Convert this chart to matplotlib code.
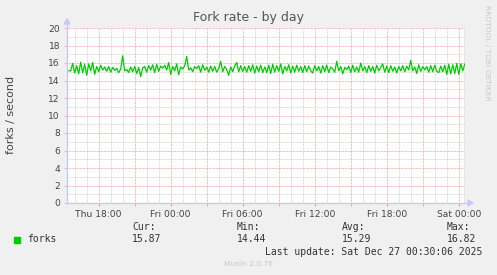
import numpy as np
import pandas as pd
import matplotlib
matplotlib.use("Agg")
import matplotlib.pyplot as plt

# --- DATA (forks per second, 10 minute samples) ---
start_time = "2025-12-25 15:20"
step_minutes = 10
forks = [
    15.10, 15.12, 15.10, 15.95, 14.85, 15.70, 14.75, 16.10, 14.90, 15.85,
    14.60, 15.90, 15.10, 16.05, 14.70, 15.60, 15.00, 15.75, 15.20, 15.55,
    15.05, 15.60, 14.95, 15.50, 15.15, 15.40, 14.90, 15.30, 16.82, 15.10,
    15.25, 14.90, 15.55, 15.00, 15.60, 14.80, 15.50, 14.44, 15.45, 15.60,
    14.95, 15.70, 15.20, 15.80, 14.90, 15.85, 15.05, 15.65, 15.40, 15.75,
    15.20, 16.05, 14.70, 15.60, 15.10, 15.90, 14.65, 15.55, 15.30, 15.70,
    16.75, 15.20, 15.45, 15.00, 15.60, 15.35, 15.70, 14.95, 15.80, 15.15,
    15.55, 14.95, 15.65, 15.05, 15.60, 14.95, 15.35, 16.20, 15.00, 15.60,
    15.25, 14.60, 15.55, 15.00, 15.65, 16.05, 15.00, 15.70, 15.05, 15.60,
    14.95, 15.70, 15.05, 15.80, 14.85, 15.65, 15.00, 15.75, 14.90, 15.55,
    14.90, 15.75, 14.80, 15.85, 14.95, 15.70, 15.05, 15.90, 14.75, 15.60,
    15.10, 15.80, 14.85, 15.65, 14.95, 15.75, 15.05, 15.60, 14.90, 15.70,
    15.00, 15.65, 15.10, 14.85, 15.70, 15.10, 15.60, 14.85, 15.70, 15.00,
    15.75, 14.90, 15.55, 15.30, 14.95, 16.20, 15.10, 15.60, 14.75, 15.50,
    15.25, 15.65, 14.90, 15.75, 15.00, 15.55, 14.95, 16.00, 15.10, 15.60,
    14.90, 15.70, 15.05, 15.60, 14.85, 15.75, 15.10, 15.50, 15.90, 14.95,
    15.65, 14.90, 15.70, 15.05, 15.55, 14.85, 15.60, 15.10, 15.70, 15.00,
    15.65, 15.20, 16.30, 15.10, 15.55, 14.80, 15.80, 15.05, 15.60, 15.20,
    15.60, 14.95, 15.70, 15.00, 15.75, 15.05, 14.90, 15.65, 15.00, 15.75,
    14.70, 15.85, 14.75, 15.80, 14.80, 15.95, 14.70, 15.90, 15.10, 15.87,
]
stat_names = ["Cur:", "Min:", "Avg:", "Max:"]
stat_values = ["15.87", "14.44", "15.29", "16.82"]
tick_labels = ["Thu 18:00", "Fri 00:00", "Fri 06:00", "Fri 12:00", "Fri 18:00", "Sat 00:00"]
tick_hours = [-30, -24, -18, -12, -6, 0]

# hours relative to Sat 00:00
ref = pd.Timestamp("2025-12-27 00:00")
times = pd.date_range(start_time, periods=len(forks), freq=f"{step_minutes}min")
hours = (times - ref) / pd.Timedelta(hours=1)

W, H = 497, 275
fig = plt.figure(figsize=(W / 100, H / 100), dpi=100, facecolor="#f0f0f0")
ax = fig.add_axes([67 / W, 72 / H, 398 / W, 175 / H])
ax.set_facecolor("white")

x0, x1 = -32.64, 0.52
ax.set_xlim(x0, x1)
ax.set_ylim(0, 20)

# --- GRID (rrdtool style) ---
dot = (0, (0.72, 0.72))
for h in range(-32, 1):
    if h % 3 == 0:
        ax.axvline(h, color="#eba0a0", lw=0.7, ls=dot, zorder=1)
    else:
        ax.axvline(h, color="#d0d0d0", lw=0.7, ls=dot, zorder=1)
for v in range(1, 21):
    if v % 2 == 0:
        ax.axhline(v, color="#eba0a0", lw=0.7, ls=dot, zorder=1)
    else:
        ax.axhline(v, color="#d0d0d0", lw=0.7, ls=dot, zorder=1)

ax.plot(hours, forks, color="#00cc00", lw=0.9, zorder=3)

# right edge line
ax.axvline(x1 - 0.04, color="#8a8a8a", lw=1.0, zorder=4)

for s in ax.spines.values():
    s.set_visible(False)

ax.set_xticks(tick_hours)
ax.set_xticklabels(tick_labels)
ax.set_xticks([h for h in range(-30, 1, 3)], minor=True)
ax.set_yticks(range(0, 21, 2))
ax.tick_params(axis="x", which="both", length=2, color="#eba0a0", pad=3,
               labelsize=6.6, labelcolor="#444444")
ax.tick_params(axis="y", length=2, color="#c8c8f0", pad=3,
               labelsize=6.6, labelcolor="#444444")

# axes with arrows
axis_col = "#c8c8f8"
fig.add_artist(plt.Line2D([67 / W, 67 / W], [72 / H, 250 / H], color=axis_col, lw=1.0))
fig.add_artist(plt.Line2D([67 / W, 468 / W], [72 / H, 72 / H], color=axis_col, lw=1.0))
fig.patches.append(plt.Polygon([[64 / W, 251 / H], [70 / W, 251 / H], [67 / W, 256 / H]],
                               closed=True, color=axis_col, transform=fig.transFigure))
fig.patches.append(plt.Polygon([[468 / W, 69 / H], [468 / W, 75 / H], [473 / W, 72 / H]],
                               closed=True, color=axis_col, transform=fig.transFigure))

# --- TEXT ---
fig.text(248.5 / W, 1 - 18 / H, "Fork rate - by day", ha="center", va="center",
         fontsize=9, color="#555555")
fig.text(11 / W, 1 - 115 / H, "forks / second", ha="center", va="center",
         rotation=90, fontsize=8, color="#444444")
fig.text(487 / W, 1 - 53 / H, "RRDTOOL / TOBI OETIKER", ha="center", va="center",
         rotation=270, fontsize=5.4, color="#c8c8c8")

mono = "DejaVu Sans Mono"
fig.patches.append(plt.Rectangle((14 / W, 1 - 243 / H), 6 / W, 6 / H,
                                 color="#00cc00", transform=fig.transFigure))
fig.text(27 / W, 1 - 242.5 / H, "forks", family=mono, fontsize=7, color="#333333",
         va="baseline")
col_x = [132, 237, 342, 447]
for cx, name, val in zip(col_x, stat_names, stat_values):
    fig.text(cx / W, 1 - 230.5 / H, name, family=mono, fontsize=7, color="#333333",
             va="baseline")
    fig.text(cx / W, 1 - 242.5 / H, val, family=mono, fontsize=7, color="#333333",
             va="baseline")
fig.text(482 / W, 1 - 255 / H, "Last update: Sat Dec 27 00:30:06 2025", family=mono,
         fontsize=7, color="#333333", ha="right", va="baseline")
fig.text(248 / W, 1 - 264 / H, "Munin 2.0.76", ha="center", va="center",
         fontsize=5.4, color="#c8c8c8")

fig.savefig("out.png", dpi=100, facecolor=fig.get_facecolor())
